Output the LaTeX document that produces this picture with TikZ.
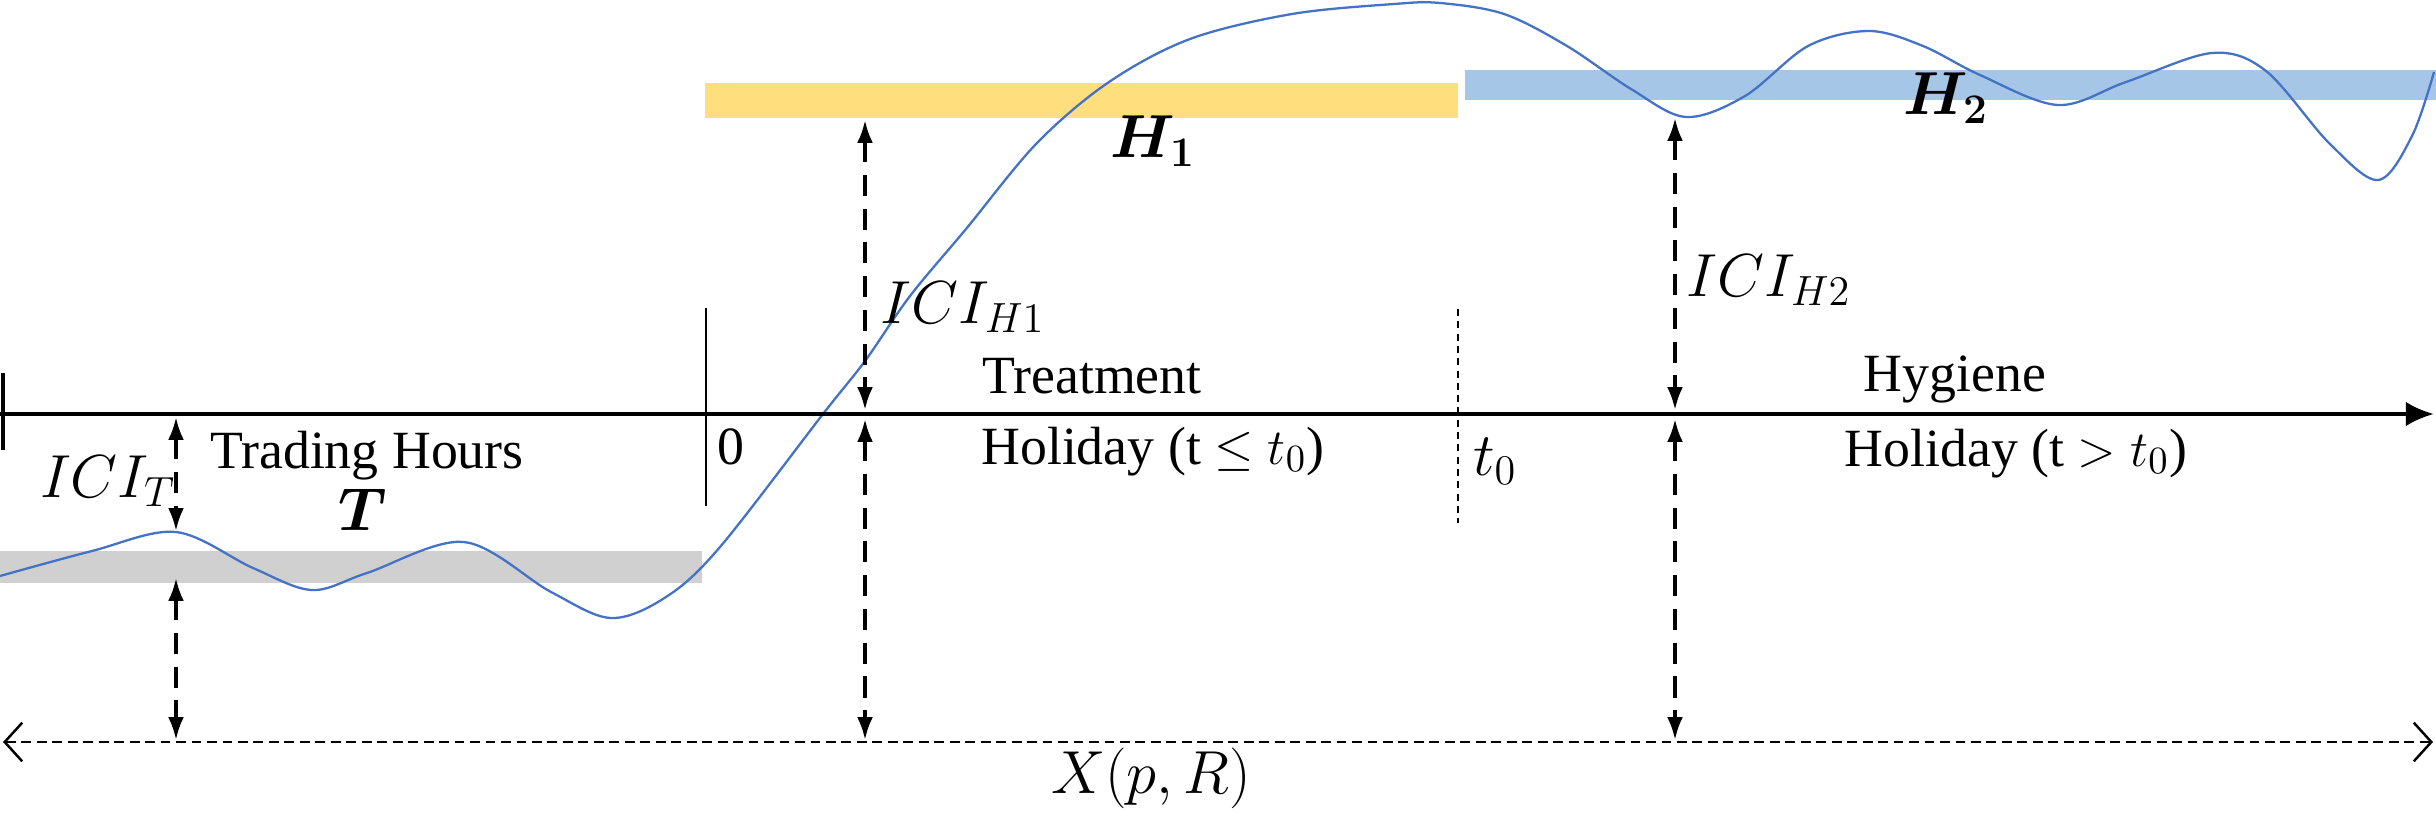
\documentclass[tikz,border=0pt]{standalone}
\usepackage{fontspec}
\setmainfont{Liberation Serif}
\usepackage{bm}
\usetikzlibrary{arrows.meta}
\definecolor{bandyellow}{RGB}{255,222,125}
\definecolor{bandblue}{RGB}{166,198,232}
\definecolor{bandgrey}{RGB}{208,208,208}
\definecolor{curveblue}{RGB}{68,114,196}
\begin{document}
\begin{tikzpicture}[x=0.01cm,y=-0.01cm,
  lbl/.style={inner sep=0pt, anchor=base, font=\fontsize{15.3}{17}\selectfont},
  mlbl/.style={inner sep=0pt, anchor=base, font=\fontsize{17.5}{20}\selectfont},
  iciarrow/.style={black, line width=1pt, dash pattern=on 6pt off 3.6pt,
     {Latex[length=6.5pt,width=4.5pt]}-{Latex[length=6.5pt,width=4.5pt]}},
  axisline/.style={black, line width=1.2pt},
  xline/.style={black, line width=0.7pt, dash pattern=on 2.8pt off 1.6pt,
     {Straight Barb[length=5pt,width=11pt,line width=0.7pt]}-{Straight Barb[length=5pt,width=11pt,line width=0.7pt]}},
  curve/.style={curveblue, line width=0.65pt}
]
\useasboundingbox (0,0) rectangle (2436,818);

% bands
\fill[bandgrey] (0,551) rectangle (702,583);
\fill[bandyellow] (705,83) rectangle (1458,118);
\fill[bandblue] (1465,70) rectangle (2436,100);

% curve
\draw[curve] plot[smooth, tension=0.55] coordinates {
 (0,576) (92,551) (176,532) (253,568) (312,590) (367,573) (464,542)
 (551,592) (611,618) (666,597) (720,547) (823,414) (865,361) (910,296)
 (966,229) (1037,143) (1109,82) (1190,39) (1292,14) (1394,4) (1440,3)
 (1504,14) (1567,46) (1631,89) (1686,117) (1745,96) (1808,46) (1869,31)
 (1923,46) (1980,75) (2058,105) (2126,82) (2212,53) (2266,71) (2329,143)
 (2378,180) (2412,136) (2434,72)};

% axis
\coordinate (axL) at (0,414);
\coordinate (axR) at (2434,414);
\coordinate (tkT) at (3,373);
\coordinate (tkB) at (3,450);
\draw[axisline, -{Latex[length=8pt,width=7pt]}] (axL) -- (axR);
\draw[axisline] (tkT) -- (tkB);

% vertical separators
\coordinate (zT) at (706,308);
\coordinate (zB) at (706,506);
\draw[black, line width=0.6pt] (zT) -- (zB);
\coordinate (t0T) at (1458,309);
\coordinate (t0B) at (1458,523);
\draw[black, line width=0.5pt, dash pattern=on 2pt off 1.5pt] (t0T) -- (t0B);

% X line
\coordinate (xL) at (3,742);
\coordinate (xR) at (2433,742);
\draw[xline] (xL) -- (xR);

% ICI arrows
\coordinate (aT1) at (176,417);
\coordinate (aT2) at (176,531);
\coordinate (aT3) at (176,578);
\coordinate (aT4) at (176,740);
\draw[iciarrow] (aT1) -- (aT2);
\draw[iciarrow] (aT3) -- (aT4);
\coordinate (a11) at (865,120);
\coordinate (a12) at (865,410);
\coordinate (a13) at (865,419);
\coordinate (a14) at (865,740);
\draw[iciarrow] (a11) -- (a12);
\draw[iciarrow] (a13) -- (a14);
\coordinate (a21) at (1675,118);
\coordinate (a22) at (1675,410);
\coordinate (a23) at (1675,419);
\coordinate (a24) at (1675,740);
\draw[iciarrow] (a21) -- (a22);
\draw[iciarrow] (a23) -- (a24);

% labels
\node[mlbl] (iciT) at (108,497) {$ICI_T$};
\node[mlbl] (iciH1) at (963,323) {$ICI_{H1}$};
\node[mlbl] (iciH2) at (1769,296) {$ICI_{H2}$};
\node[mlbl] (bT) at (363,530) {$\bm{T}$};
\node[mlbl] (bH1) at (1153,157) {$\bm{H}_{\bm{1}}$};
\node[mlbl] (bH2) at (1946,114) {$\bm{H}_{\bm{2}}$};
\node[mlbl] (xpr) at (1151,793) {$X(p,R)$};
\node[mlbl] (t0) at (1495,475) {$t_0$};
\node[lbl] (trad) at (367,468) {Trading Hours};
\node[lbl] (zero) at (731,464) {0};
\node[lbl] (treat) at (1092,393) {Treatment};
\node[lbl] (hol1) at (1153,464) {Holiday (t $\leq t_0$)};
\node[lbl] (hyg) at (1955,391) {Hygiene};
\node[lbl] (hol2) at (2016,466) {Holiday (t $> t_0$)};
\end{tikzpicture}
\end{document}
